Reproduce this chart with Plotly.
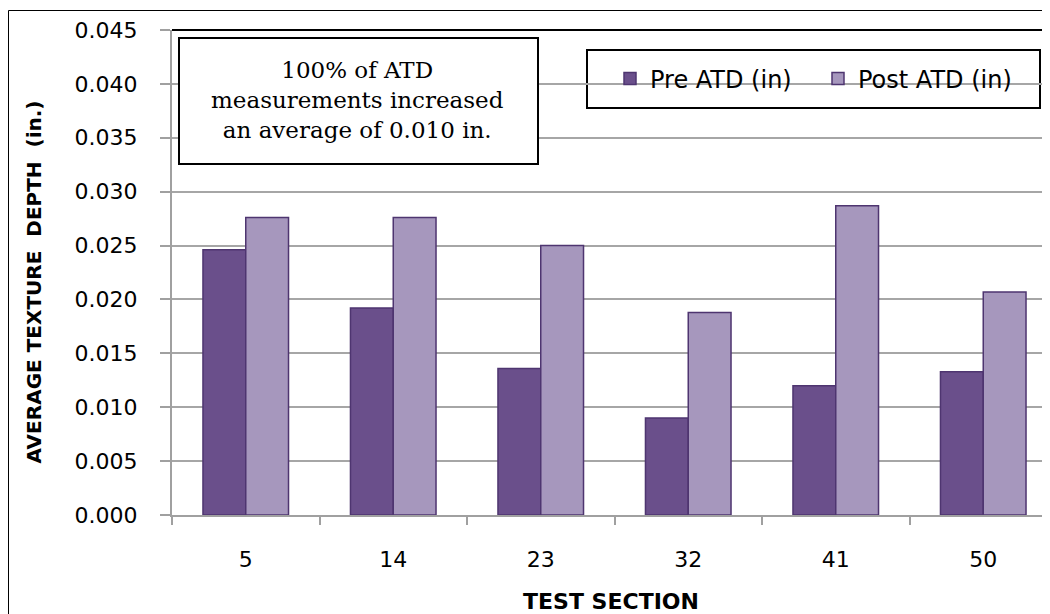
import plotly.graph_objects as go

# ---- data ----
sections = ["5", "14", "23", "32", "41", "50"]
pre_atd = [0.0246, 0.0192, 0.0136, 0.0090, 0.0120, 0.0133]
post_atd = [0.0276, 0.0276, 0.0250, 0.0188, 0.0287, 0.0207]
y_ticks = [0.000, 0.005, 0.010, 0.015, 0.020, 0.025, 0.030, 0.035, 0.040, 0.045]
y_tick_labels = ["%.3f" % v for v in y_ticks]
note_text = "100% of ATD<br>measurements increased<br>an average of 0.010 in."
y_title = "AVERAGE TEXTURE\u00a0 DEPTH\u00a0 (in.)"
x_title = "TEST SECTION"

# page body has an 8px margin, so the figure is laid out in page coords minus 8
OFF = 8
W, H = 1050 - OFF, 614 - OFF
PL, PR, PT, PB = 172, 1050, 30, 515          # plot area in page pixels
ML, MR, MT, MB = PL - OFF, 1050 - PR, PT - OFF, 614 - PB
PW, PH = PR - PL, PB - PT


def px(x):
    return (x - PL) / PW


def py(y):
    return (PB - y) / PH


SANS = "'DejaVu Sans', sans-serif"
SERIF = "'DejaVu Serif', Georgia, serif"
LINE = "#4e3570"

fig = go.Figure()
fig.add_trace(go.Bar(x=sections, y=pre_atd, name="Pre ATD (in)",
                     marker=dict(color="#6a4f8b", line=dict(color=LINE, width=1.5))))
fig.add_trace(go.Bar(x=sections, y=post_atd, name="Post ATD (in)",
                     marker=dict(color="#a697bd", line=dict(color=LINE, width=1.5))))

fig.update_layout(
    width=W, height=H,
    margin=dict(l=ML, r=MR, t=MT, b=MB, pad=0, autoexpand=False),
    paper_bgcolor="white", plot_bgcolor="white",
    barmode="group", bargap=0.42, bargroupgap=0.0,
    font=dict(family=SANS, color="black"),
    showlegend=True,
    legend=dict(orientation="h", x=px(610), y=py(79), xanchor="left", yanchor="middle",
                borderwidth=0, bgcolor="rgba(0,0,0,0)",
                font=dict(size=24, family=SANS), entrywidth=163,
                traceorder="normal"),
    xaxis=dict(type="category", range=[-0.5, 5.5 - 7 / 147.6],
               showline=True, linecolor="#a0a0a0", linewidth=2,
               ticks="outside", ticklen=8, tickcolor="#a0a0a0", tickwidth=1.5,
               tickson="boundaries", ticklabelstandoff=24,
               tickfont=dict(size=22, family=SANS),
               title=dict(text="<b>" + x_title + "</b>", font=dict(size=22, family=SANS), standoff=24),
               showgrid=False, zeroline=False),
    yaxis=dict(range=[0, 0.045], tickvals=y_ticks, ticktext=y_tick_labels,
               showline=True, linecolor="#a0a0a0", linewidth=2,
               ticks="outside", ticklen=10, tickcolor="#a0a0a0", tickwidth=1.5,
               ticklabelstandoff=18,
               tickfont=dict(size=22, family=SANS),
               showgrid=True, gridcolor="#a6a6a6", gridwidth=2,
               zeroline=False),
)

# y-axis title (placed where the reference has it)
fig.add_annotation(xref="paper", yref="paper", x=px(33.5), y=py(282),
                   text="<b>" + y_title + "</b>", textangle=-90, showarrow=False,
                   xanchor="center", yanchor="middle",
                   font=dict(family=SANS, size=20, color="black"))

# outer chart border (partially cropped) and plot-area top edge
fig.add_shape(type="rect", xref="paper", yref="paper",
              x0=px(8.5), x1=px(1060), y0=py(630), y1=py(10.5),
              line=dict(color="black", width=1), layer="below")
fig.add_shape(type="line", xref="paper", yref="paper",
              x0=0, x1=px(1060), y0=1, y1=1,
              line=dict(color="black", width=2))

# legend frame
fig.add_shape(type="rect", xref="paper", yref="paper",
              x0=px(587), x1=px(1040), y0=py(108), y1=py(50),
              line=dict(color="black", width=2), fillcolor="white", layer="below")

# note box
fig.add_shape(type="rect", xref="paper", yref="paper",
              x0=px(179), x1=px(538), y0=py(164), y1=py(38),
              line=dict(color="black", width=2), fillcolor="white")
fig.add_annotation(xref="paper", yref="paper", x=px(357), y=py(100),
                   text=note_text, showarrow=False, align="center",
                   xanchor="center", yanchor="middle",
                   font=dict(family=SERIF, size=23, color="black"))

fig.write_html("out.html")
